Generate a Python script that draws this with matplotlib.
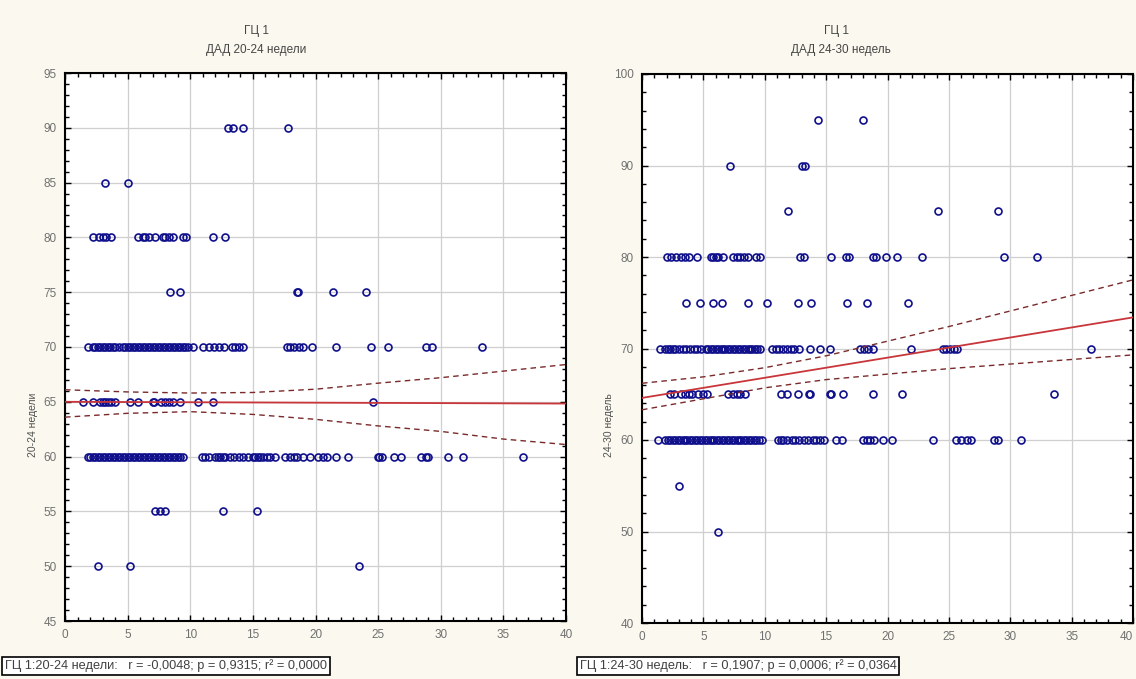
import matplotlib
matplotlib.use("Agg")
import matplotlib.pyplot as plt
from matplotlib.ticker import MultipleLocator

plt.rcParams['font.family'] = ['Liberation Sans', 'DejaVu Sans']

# ---------------- data: left panel (ДАД 20-24 недели) ----------------
left_x_90 = [13.0, 13.4, 14.2, 17.8]
left_x_85 = [3.2, 5.0]
left_x_80 = [2.2, 2.7, 3.0, 3.3, 3.7, 5.8, 6.2, 6.4, 6.7, 7.2, 7.8, 8.0, 8.3, 8.6,
             9.4, 9.7, 11.8, 12.8]
left_x_75 = [8.4, 9.2, 18.5, 18.6, 21.4, 24.0]
left_x_70 = [1.8, 2.2, 2.4, 2.6, 2.8, 3.0, 3.2, 3.4, 3.6, 3.8, 4.0, 4.3, 4.6, 4.8, 5.0,
             5.2, 5.4, 5.6, 5.8, 6.0, 6.2, 6.4, 6.6, 6.8, 7.0, 7.2, 7.4, 7.6, 7.8, 8.0,
             8.2, 8.4, 8.6, 8.8, 9.0, 9.2, 9.4, 9.6, 9.8, 10.2, 11.0, 11.5, 11.9, 12.3,
             12.7, 13.3, 13.6, 13.9, 14.2, 17.7, 18.0, 18.3, 18.7, 19.0, 19.7, 21.6,
             24.4, 25.8, 28.8, 29.3, 33.3]
left_x_65 = [1.4, 2.2, 2.8, 3.0, 3.2, 3.4, 3.7, 4.0, 5.2, 5.8, 7.0, 7.1, 7.7, 8.0, 8.3,
             8.6, 9.2, 10.6, 11.8, 24.6]
left_x_60 = [1.8, 2.0, 2.2, 2.4, 2.6, 2.8, 3.0, 3.2, 3.4, 3.6, 3.8, 4.0, 4.2, 4.4, 4.6,
             4.8, 5.0, 5.2, 5.4, 5.6, 5.8, 6.0, 6.2, 6.4, 6.6, 6.8, 7.0, 7.2, 7.4, 7.6,
             7.8, 8.0, 8.2, 8.4, 8.6, 8.8, 9.0, 9.2, 9.4, 10.9, 11.2, 11.5, 12.0, 12.2,
             12.4, 12.6, 12.8, 13.2, 13.5, 13.9, 14.2, 14.6, 15.0, 15.2, 15.4, 15.6,
             15.8, 16.1, 16.4, 16.8, 17.6, 18.0, 18.3, 18.5, 19.0, 19.6, 20.2, 20.6,
             20.9, 21.6, 22.6, 25.0, 25.1, 25.3, 26.3, 26.8, 28.4, 28.8, 29.0, 30.6,
             31.8, 36.6]
left_x_55 = [7.2, 7.6, 8.0, 12.6, 15.3]
left_x_50 = [2.6, 5.2, 23.5]

left_band_x = [0, 5, 10, 15, 20, 25, 30, 35, 40]
left_fit = [65.0, 64.98, 64.96, 64.94, 64.92, 64.9, 64.88, 64.86, 64.84]
left_upper = [66.1, 65.9, 65.8, 65.85, 66.15, 66.7, 67.2, 67.8, 68.4]
left_lower = [63.6, 63.95, 64.1, 63.85, 63.4, 62.8, 62.3, 61.6, 61.1]

# ---------------- data: right panel (ДАД 24-30 недель) ----------------
right_x_95 = [14.3, 18.0]
right_x_90 = [7.2, 13.0, 13.3]
right_x_85 = [11.9, 24.1, 29.0]
right_x_80 = [2.0, 2.4, 2.8, 3.2, 3.5, 3.8, 4.5, 5.6, 5.8, 6.0, 6.2, 6.6, 7.4, 7.7, 8.0,
              8.3, 8.6, 9.3, 9.6, 12.9, 13.2, 15.4, 16.6, 16.9, 18.8, 19.1, 19.9, 20.8,
              22.8, 29.5, 32.2]
right_x_75 = [3.6, 4.7, 5.8, 6.5, 8.6, 10.2, 12.7, 13.8, 16.7, 18.3, 21.7]
right_x_70 = [1.5, 1.9, 2.1, 2.3, 2.5, 2.7, 3.0, 3.3, 3.6, 3.9, 4.2, 4.5, 4.8, 5.2, 5.4,
              5.6, 5.8, 6.0, 6.2, 6.4, 6.6, 6.8, 7.0, 7.2, 7.4, 7.6, 7.8, 8.0, 8.2, 8.4,
              8.6, 8.8, 9.0, 9.2, 9.4, 9.6, 10.6, 10.9, 11.2, 11.5, 11.8, 12.1, 12.4,
              12.8, 13.7, 14.5, 15.3, 17.8, 18.1, 18.4, 18.8, 21.9, 24.5, 24.8, 25.1,
              25.4, 25.7, 36.6]
right_x_65 = [2.3, 2.6, 3.2, 3.5, 3.8, 4.1, 4.6, 5.0, 5.3, 7.0, 7.4, 7.7, 8.0, 8.4, 11.3,
              11.8, 12.7, 13.6, 13.7, 15.3, 15.4, 16.4, 18.8, 21.2, 33.6]
right_x_60 = [1.3, 1.9, 2.1, 2.3, 2.5, 2.7, 2.9, 3.1, 3.3, 3.5, 3.7, 3.9, 4.1, 4.3, 4.5,
              4.7, 4.9, 5.1, 5.3, 5.5, 5.7, 5.9, 6.1, 6.3, 6.5, 6.7, 6.9, 7.1, 7.3, 7.5,
              7.7, 7.9, 8.1, 8.3, 8.5, 8.7, 8.9, 9.1, 9.3, 9.5, 9.8, 11.1, 11.3, 11.5,
              11.8, 12.2, 12.5, 12.8, 13.2, 13.5, 13.9, 14.2, 14.5, 14.8, 15.8, 16.3,
              18.0, 18.3, 18.6, 18.9, 19.6, 20.4, 23.7, 25.6, 26.0, 26.5, 26.8, 28.7,
              29.0, 30.9]
right_x_55 = [3.0]
right_x_50 = [6.2]

right_band_x = [0, 5, 10, 15, 20, 25, 30, 35, 40]
right_fit = [64.6, 65.7, 66.8, 67.9, 69.0, 70.1, 71.2, 72.3, 73.4]
right_upper = [66.2, 66.9, 67.9, 69.2, 70.8, 72.4, 74.1, 75.8, 77.5]
right_lower = [63.3, 64.5, 65.7, 66.6, 67.2, 67.8, 68.3, 68.8, 69.3]

left_title = "ДАД 20-24 недели"
right_title = "ДАД 24-30 недель"
left_ylabel = "20-24 недели"
right_ylabel = "24-30 недель"
left_stats = "ГЦ 1:20-24 недели:   r = -0,0048; p = 0,9315; r² = 0,0000"
right_stats = "ГЦ 1:24-30 недель:   r = 0,1907; p = 0,0006; r² = 0,0364"
x_ticks = [0, 5, 10, 15, 20, 25, 30, 35, 40]

left_rows = [(90, left_x_90), (85, left_x_85), (80, left_x_80), (75, left_x_75),
             (70, left_x_70), (65, left_x_65), (60, left_x_60), (55, left_x_55),
             (50, left_x_50)]
right_rows = [(95, right_x_95), (90, right_x_90), (85, right_x_85), (80, right_x_80),
              (75, right_x_75), (70, right_x_70), (65, right_x_65), (60, right_x_60),
              (55, right_x_55), (50, right_x_50)]

BG = '#fbf9ef'
W, H = 1136, 679
fig = plt.figure(figsize=(W / 100, H / 100), dpi=100, facecolor=BG)


def px_rect(x0, y0, x1, y1):
    return [x0 / W, 1 - y1 / H, (x1 - x0) / W, (y1 - y0) / H]


def panel(rect, rows, bx, fit, up, lo, ylim, ymaj, ymin):
    ax = fig.add_axes(rect)
    ax.set_facecolor('white')
    xs, ys = [], []
    for yv, xl in rows:
        xs.extend(xl)
        ys.extend([yv] * len(xl))
    ax.plot(xs, ys, linestyle='none', marker='o', markersize=5.0,
            markerfacecolor='none', markeredgecolor='#10108c', markeredgewidth=1.2,
            zorder=3)
    ax.plot(bx, fit, color='#c8353a', lw=1.3, zorder=4)
    ax.plot(bx, up, color='#7a2a2a', lw=1.0, dashes=(4, 3), zorder=4)
    ax.plot(bx, lo, color='#7a2a2a', lw=1.0, dashes=(4, 3), zorder=4)
    ax.set_xlim(0, 40)
    ax.set_ylim(*ylim)
    ax.set_xticks(x_ticks)
    ax.xaxis.set_minor_locator(MultipleLocator(1))
    ax.yaxis.set_major_locator(MultipleLocator(ymaj))
    ax.yaxis.set_minor_locator(MultipleLocator(ymin))
    ax.grid(True, which='major', color='#cfcfcf', lw=0.9, zorder=0)
    ax.set_axisbelow(True)
    ax.tick_params(which='both', direction='in', top=True, right=True,
                   width=1.0, color='black', labelsize=8.5, labelcolor='#707070')
    ax.tick_params(which='major', length=4, pad=6)
    ax.tick_params(which='minor', length=3)
    for s in ax.spines.values():
        s.set_linewidth(1.5)
        s.set_color('black')
    return ax


axL = panel(px_rect(65, 73, 566, 621), left_rows, left_band_x, left_fit,
            left_upper, left_lower, (45, 95), 5, 1)
axR = panel(px_rect(642, 74, 1133, 623), right_rows, right_band_x, right_fit,
            right_upper, right_lower, (40, 100), 10, 2)
# keep the last x tick label of the right panel inside the figure
axR.get_xticklabels()[-1].set_horizontalalignment('right')
axR.get_xticklabels()[-1].set_x(40)

# titles
fig.text(257 / W, 1 - 31 / H, "ГЦ 1", ha='center', va='center', fontsize=8.5, color='#454545')
fig.text(256 / W, 1 - 50 / H, left_title, ha='center', va='center', fontsize=8.5, color='#454545')
fig.text(836 / W, 1 - 31 / H, "ГЦ 1", ha='center', va='center', fontsize=8.5, color='#454545')
fig.text(841 / W, 1 - 50 / H, right_title, ha='center', va='center', fontsize=8.5, color='#454545')

# y labels (left of the tick labels)
fig.text(33 / W, 1 - 425 / H, left_ylabel, ha='center', va='center', rotation=90,
         fontsize=7.5, color='#505050')
fig.text(609 / W, 1 - 425 / H, right_ylabel, ha='center', va='center', rotation=90,
         fontsize=7.5, color='#505050')

# stats boxes
box = dict(boxstyle='square,pad=0.2', facecolor='white', edgecolor='black', linewidth=1.2)
fig.text(5 / W, 1 - 666 / H, left_stats, ha='left', va='center', fontsize=9.2,
         color='#404040', bbox=box)
fig.text(580 / W, 1 - 666 / H, right_stats, ha='left', va='center', fontsize=9.2,
         color='#404040', bbox=box)

fig.savefig('out.png', dpi=100, facecolor=BG)
